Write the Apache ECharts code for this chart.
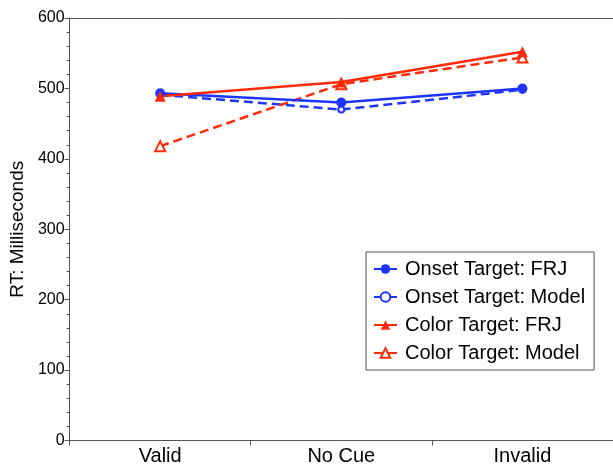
<!DOCTYPE html>
<html>
<head>
<meta charset="utf-8">
<script src="https://cdn.jsdelivr.net/npm/echarts@6/dist/echarts.min.js"></script>
<style>html,body{margin:0;padding:0;background:#fff}#c{width:613px;height:467px}</style>
</head>
<body>
<div id="c"></div>
<script>
var categories = ['Valid', 'No Cue', 'Invalid'];
var onsetFRJ = [493, 480, 500];
var onsetModel = [491, 470, 498];
var colorFRJ = [489, 509, 552];
var colorModel = [418, 506, 544];
var yTicks = { min: 0, max: 600, interval: 100 };

var BLUE = '#1f35ff', RED = '#ff2a0a';
var FONT = '"Liberation Sans", Arial, Helvetica, sans-serif';

var chart = echarts.init(document.getElementById('c'));
chart.setOption({
  animation: false,
  backgroundColor: '#fff',
  textStyle: { fontFamily: FONT },
  grid: { left: 68, top: 18, right: -2, bottom: 26.5 },
  legend: {
    orient: 'vertical',
    left: 366, top: 252,
    padding: [7, 9, 7, 7],
    backgroundColor: '#fff',
    borderColor: '#555', borderWidth: 1,
    itemWidth: 23, itemHeight: 12, itemGap: 8,
    textStyle: { fontSize: 20, color: '#000', lineHeight: 20, padding: [0, 0, 0, 3], fontFamily: FONT },
    data: ['Onset Target: FRJ', 'Onset Target: Model', 'Color Target: FRJ', 'Color Target: Model']
  },
  xAxis: [{
    type: 'category',
    data: categories,
    boundaryGap: true,
    axisLine: { lineStyle: { color: '#555', width: 1 } },
    axisTick: { show: true, length: 5, inside: false, lineStyle: { color: '#555' } },
    axisLabel: { fontSize: 20, color: '#000', margin: 6, fontFamily: FONT },
    splitLine: { show: false }
  }, {
    type: 'category',
    data: categories,
    position: 'top',
    axisLine: { show: true, lineStyle: { color: '#555', width: 1 } },
    axisTick: { show: false },
    axisLabel: { show: false },
    splitLine: { show: false }
  }],
  yAxis: {
    type: 'value',
    min: yTicks.min, max: yTicks.max, interval: yTicks.interval,
    name: 'RT: Milliseconds',
    nameLocation: 'middle',
    nameRotate: 90,
    nameGap: 38,
    nameTextStyle: { fontSize: 19, color: '#000', fontFamily: FONT },
    axisLine: { show: true, lineStyle: { color: '#555', width: 1 } },
    axisTick: { show: true, length: 5, lineStyle: { color: '#555' } },
    minorTick: { show: true, splitNumber: 5, length: 3, lineStyle: { color: '#555' } },
    axisLabel: { fontSize: 16, color: '#000', margin: 5, fontFamily: FONT },
    splitLine: { show: false }
  },
  series: [{
    name: 'Onset Target: Model', type: 'line', data: onsetModel,
    symbol: 'emptyCircle', symbolSize: 6,
    color: BLUE,
    lineStyle: { color: BLUE, width: 2.5, type: [9, 5] },
    itemStyle: { color: BLUE, borderWidth: 1 },
    z: 2
  }, {
    name: 'Color Target: Model', type: 'line', data: colorModel,
    symbol: 'emptyTriangle', symbolSize: 10,
    color: RED,
    lineStyle: { color: RED, width: 2.5, type: [9, 5] },
    itemStyle: { color: RED, borderWidth: 1.2 },
    z: 2
  }, {
    name: 'Onset Target: FRJ', type: 'line', data: onsetFRJ,
    symbol: 'circle', symbolSize: 10,
    color: BLUE,
    lineStyle: { color: BLUE, width: 2.5 },
    itemStyle: { color: BLUE },
    z: 3
  }, {
    name: 'Color Target: FRJ', type: 'line', data: colorFRJ,
    symbol: 'triangle', symbolSize: 11,
    color: RED,
    lineStyle: { color: RED, width: 2.5 },
    itemStyle: { color: RED },
    z: 3
  }]
});
</script>
</body>
</html>
